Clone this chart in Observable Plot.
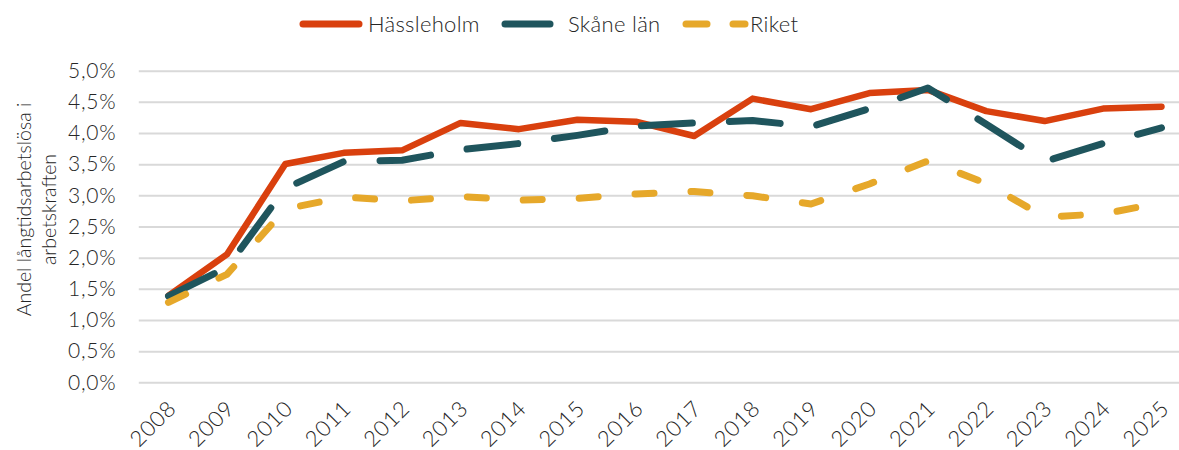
<!DOCTYPE html>
<html>
<head>
<meta charset="utf-8">
<script src="https://cdn.jsdelivr.net/npm/d3@7"></script>
<script src="https://cdn.jsdelivr.net/npm/@observablehq/plot@0.6"></script>
<style>
  html, body { margin: 0; padding: 0; background: #fff; overflow: hidden; }
  body { width: 1179px; height: 450px; font-family: Lato, "Open Sans", "DejaVu Sans", sans-serif; font-weight: 300; color: #262626; }
  #legend { height: 48px; width: 1179px; display: block; }
  #chart svg { display: block; }
  #chart svg g[aria-label="x-axis tick label"] text, #chart svg g[aria-label="y-axis tick label"] text { letter-spacing: 0.8px; }
</style>
</head>
<body>
<svg id="legend" width="1179" height="48"></svg>
<div id="chart"></div>
<script>
const years = [2008, 2009, 2010, 2011, 2012, 2013, 2014, 2015, 2016, 2017, 2018, 2019, 2020, 2021, 2022, 2023, 2024, 2025];
const hassleholm = [1.40, 2.06, 3.51, 3.69, 3.73, 4.17, 4.07, 4.22, 4.19, 3.96, 4.56, 4.39, 4.65, 4.70, 4.36, 4.20, 4.40, 4.43];
const skane      = [1.39, 1.85, 3.12, 3.55, 3.57, 3.74, 3.84, 3.97, 4.12, 4.17, 4.21, 4.11, 4.40, 4.73, 4.15, 3.55, 3.84, 4.09];
const riket      = [1.29, 1.74, 2.79, 2.98, 2.92, 2.99, 2.93, 2.96, 3.03, 3.07, 3.00, 2.87, 3.19, 3.56, 3.20, 2.66, 2.71, 2.89];
const seriesNames = ["Hässleholm", "Skåne län", "Riket"];
const yTicks = [0, 0.5, 1, 1.5, 2, 2.5, 3, 3.5, 4, 4.5, 5];
const yLabel = "Andel långtidsarbetslösa i\narbetskraften";

const colors = ["#d9400e", "#1f555d", "#e6a82a"];
const dashes = [null, "51,37", "19,37"];
const widths = [6.5, 7, 7];
const seriesValues = [hassleholm, skane, riket];

const font = 'Lato, "Open Sans", "DejaVu Sans", sans-serif';
const textColor = "#262626";

// Legend
const leg = d3.select("#legend");
const legItems = [
  {segs: [[303, 359]], tx: 368},
  {segs: [[505, 550]], tx: 568},
  {segs: [[686, 707], [733, 745]], tx: 750}
];
legItems.forEach((it, i) => {
  it.segs.forEach(([a, b]) => {
    leg.append("line").attr("x1", a).attr("x2", b).attr("y1", 24).attr("y2", 24)
      .attr("stroke", colors[i]).attr("stroke-width", 7).attr("stroke-linecap", "round");
  });
  leg.append("text").attr("x", it.tx).attr("y", 24).attr("dy", "0.35em")
    .attr("font-size", 22).attr("font-family", font).attr("font-weight", 300)
    .attr("letter-spacing", "0.3px")
    .attr("fill", textColor).text(seriesNames[i]);
});

const rows = [];
seriesNames.forEach((name, i) => {
  years.forEach((yr, j) => rows.push({series: name, year: yr, value: seriesValues[i][j]}));
});

const fmt = d => d.toFixed(1).replace(".", ",") + "%";

const lineMarks = seriesNames.map((name, i) =>
  Plot.line(rows.filter(r => r.series === name), {
    x: "year", y: "value",
    stroke: colors[i], strokeWidth: widths[i],
    strokeDasharray: dashes[i], strokeLinecap: "round", strokeLinejoin: "round"
  })
);

const chart = Plot.plot({
  width: 1179,
  height: 402,
  marginTop: 22.7,
  marginBottom: 67.7,
  marginLeft: 139,
  marginRight: 0,
  style: {fontFamily: font, fontWeight: 300, color: textColor, background: "#fff", overflow: "visible"},
  x: {type: "linear", domain: [2008, 2025], range: [168, 1161]},
  y: {domain: [0, 5], range: [334.3, 22.7]},
  marks: [
    Plot.ruleY(yTicks, {y: d => d, x1: 2007.5, x2: 2025.6, stroke: "#d9d9d9", strokeWidth: 2}),
    Plot.axisY({ticks: yTicks, tickSize: 0, tickPadding: 23, tickFormat: fmt, fontSize: 21, label: null, fill: textColor}),
    Plot.axisX({ticks: years, tickFormat: d => String(d), tickRotate: -45, tickSize: 0, tickPadding: 22, dx: 4, fontSize: 22, label: null, fill: textColor}),
    Plot.text([yLabel], {text: d => d, frameAnchor: "left", rotate: -90, textAnchor: "middle", lineAnchor: "middle",
      lineHeight: 1.3, dx: -104, dy: -17.5, fontSize: 19.5, fill: textColor}),
    ...lineMarks
  ]
});
document.getElementById("chart").appendChild(chart);
</script>
</body>
</html>
